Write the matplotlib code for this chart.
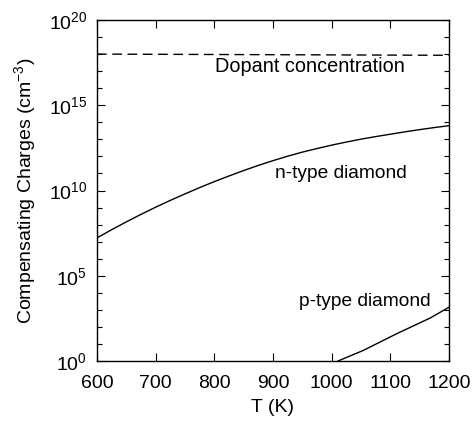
import numpy as np
import matplotlib
matplotlib.use("Agg")
import matplotlib.pyplot as plt
from matplotlib.ticker import FixedLocator, FuncFormatter

# Data (log10 of compensating charges)
T_n = [600, 625, 650, 675, 700, 725, 750, 775, 800, 825, 850, 875, 900, 925, 950, 975,
       1000, 1025, 1050, 1075, 1100, 1125, 1150, 1175, 1200]
logN_n = [7.22, 7.70, 8.16, 8.60, 9.02, 9.42, 9.80, 10.17, 10.52, 10.85, 11.17, 11.47, 11.75,
          12.01, 12.25, 12.46, 12.66, 12.84, 13.01, 13.16, 13.30, 13.44, 13.57, 13.69, 13.80]
T_p = [1011, 1054, 1111, 1168, 1200]
logN_p = [0.0, 0.62, 1.60, 2.52, 3.15]
T_dop = [600, 1200]
logN_dop = [18.0, 17.93]

x_ticks = [600, 700, 800, 900, 1000, 1100, 1200]
y_major = [0, 5, 10, 15, 20]

plt.rcParams['font.family'] = ['Liberation Sans', 'DejaVu Sans']
plt.rcParams['mathtext.fontset'] = 'custom'
plt.rcParams['mathtext.rm'] = 'Liberation Sans'
plt.rcParams['mathtext.it'] = 'Liberation Sans'
plt.rcParams['mathtext.bf'] = 'Liberation Sans'

fig = plt.figure(figsize=(4.74, 4.21), dpi=100)
ax = fig.add_axes([0.2046, 0.1425, 0.7424, 0.81])

ax.plot(T_n, 10 ** np.array(logN_n), color='black', lw=1.0)
ax.plot(T_p, 10 ** np.array(logN_p), color='black', lw=1.0)
ax.plot(T_dop, 10 ** np.array(logN_dop), color='black', lw=1.0, linestyle=(0, (7, 4)))

ax.set_yscale('log')
ax.set_xlim(600, 1200)
ax.set_ylim(1, 1e20)

ax.xaxis.set_major_locator(FixedLocator(x_ticks))
ax.yaxis.set_major_locator(FixedLocator([10.0 ** e for e in y_major]))
ax.yaxis.set_minor_locator(FixedLocator([10.0 ** e for e in range(0, 21) if e not in y_major]))
ax.yaxis.set_major_formatter(FuncFormatter(lambda v, p: r'$10^{%d}$' % int(round(np.log10(v)))))
ax.yaxis.set_minor_formatter(FuncFormatter(lambda v, p: ''))

ax.tick_params(which='both', direction='in', top=True, right=True, labelsize=14, width=0.8)
ax.tick_params(which='major', length=6)
ax.tick_params(which='minor', length=3.5)
ax.tick_params(axis='x', pad=10)
ax.tick_params(axis='y', pad=7)
for s in ax.spines.values():
    s.set_linewidth(1.0)

ax.set_xlabel('T (K)', fontsize=14, labelpad=5)
ax.set_ylabel(r'Compensating Charges (cm$^{-3}$)', fontsize=14, labelpad=8)

ax.text(801, 10 ** 17.25, 'Dopant concentration', fontsize=14.3, ha='left', va='center')
ax.text(903, 10 ** 11.0, 'n-type diamond', fontsize=13.8, ha='left', va='center')
ax.text(944, 10 ** 3.5, 'p-type diamond', fontsize=13.8, ha='left', va='center')

fig.savefig('out.png', dpi=100)
